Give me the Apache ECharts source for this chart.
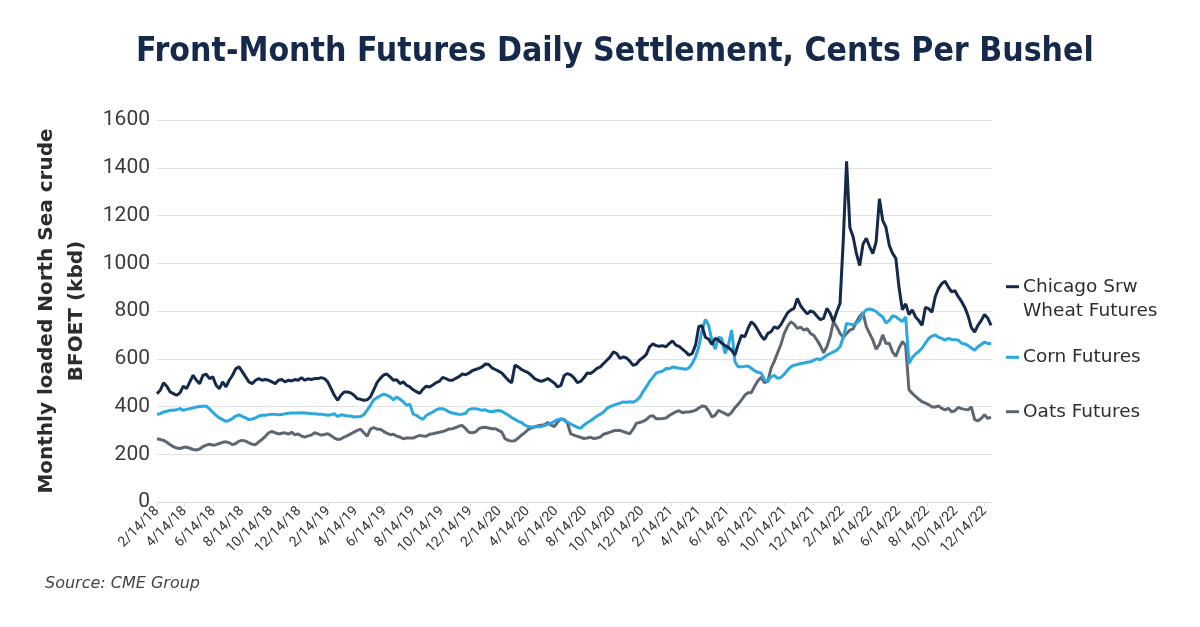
<!DOCTYPE html>
<html><head><meta charset="utf-8">
<script src="https://cdn.jsdelivr.net/npm/echarts@6/dist/echarts.min.js"></script>
<style>html,body{margin:0;padding:0;background:#fff}#c{width:1200px;height:627px}</style>
</head><body><div id="c"></div>
<script>
const seriesNames = ['Chicago Srw Wheat Futures', 'Corn Futures', 'Oats Futures'];
const legendLabels = ['Chicago Srw\nWheat Futures', 'Corn Futures', 'Oats Futures'];
const firstWeek = '2018-02-14';
const weekStepDays = 7;
const axisStart = '2018-02-14';
const axisEnd = '2022-12-30';

const wheat = [
454,468,499,485,461,454,447,457,485,475,
503,531,510,496,531,535,517,524,489,475,
503,482,510,531,559,566,545,524,503,496,
510,517,510,513,510,503,496,510,513,503,
510,507,513,510,521,510,516,513,517,517,
521,517,503,475,447,426,447,461,461,457,
447,433,430,426,428,440,470,500,518,532,
536,524,510,512,496,503,489,482,470,462,
455,473,485,482,490,500,505,522,517,510,
510,518,525,536,533,540,550,555,560,566,
578,576,562,555,548,540,525,510,499,573,
566,555,548,542,530,517,510,505,510,517,
508,498,482,488,530,538,532,520,500,505,
520,540,538,548,560,566,580,594,608,629,
622,601,608,603,590,572,578,595,605,618,
650,662,655,652,655,650,664,675,657,652,
640,629,615,622,657,735,738,690,682,660,
685,678,665,655,648,635,615,660,698,692,
727,755,742,720,695,680,706,713,734,727,
743,768,792,804,811,853,822,804,788,800,
795,778,764,769,811,790,755,797,832,1098,
1427,1150,1110,1040,990,1080,1105,1070,1040,1090,
1270,1180,1150,1075,1042,1020,895,805,830,785,
805,775,760,740,815,810,795,860,895,915,
925,900,880,885,860,840,815,780,730,712,
740,760,785,770,740
];
const corn = [
367,370,377,380,384,384,387,391,384,388,
391,394,398,400,401,402,390,375,363,352,
345,338,342,350,360,365,358,352,345,348,
352,360,363,363,366,368,367,365,366,370,
372,373,373,373,374,373,372,370,370,368,
368,366,363,365,370,358,365,363,360,360,
356,357,358,366,385,405,428,437,445,452,
447,440,428,440,430,420,405,410,368,363,
353,346,362,370,377,386,391,391,385,377,
373,370,367,368,372,388,391,391,388,384,
386,380,378,381,383,380,372,363,354,346,
338,333,322,316,314,314,315,316,320,325,
330,338,345,348,342,335,326,320,313,308,
322,332,340,350,360,368,377,392,400,405,
410,414,419,418,420,418,425,438,462,482,
505,522,540,545,548,559,558,565,563,560,
558,556,562,580,608,650,720,765,740,675,
640,690,685,622,657,720,587,566,566,568,
570,560,550,543,540,512,505,524,530,518,
522,535,552,566,573,576,580,582,585,587,
594,600,596,605,615,622,629,636,650,690,
748,745,742,750,760,790,805,808,805,798,
785,775,750,760,780,776,765,756,775,580,
605,620,630,645,665,685,695,700,690,685,
678,685,681,680,678,665,662,655,645,636,
650,660,670,664,664
];
const oats = [
265,262,258,250,240,232,226,224,228,230,
225,220,218,222,232,238,242,238,240,245,
250,252,248,240,245,255,258,255,248,242,
240,252,262,275,290,296,290,285,288,290,
284,292,282,285,276,272,277,280,290,285,
280,283,286,278,268,262,264,272,278,285,
293,300,305,290,275,305,312,305,305,296,
288,282,284,276,272,265,268,268,268,274,
279,276,275,284,286,289,292,295,300,306,
307,312,318,320,307,292,290,293,307,312,
313,310,307,307,300,293,265,258,255,257,
268,280,290,303,310,315,319,322,324,333,
322,316,335,348,346,330,285,280,275,271,
266,268,271,266,268,272,284,288,293,298,
300,300,295,290,286,305,330,333,338,345,
358,362,349,349,350,352,362,370,378,382,
374,377,377,380,384,394,402,400,382,356,
364,384,377,370,363,375,395,410,428,447,
458,458,485,508,522,500,505,560,590,625,
660,705,735,755,745,727,732,720,726,706,
698,678,655,625,650,692,755,734,706,690,
706,720,725,755,778,792,735,706,678,640,
660,700,664,665,628,610,645,672,655,470,
455,442,430,420,414,408,398,398,402,392,
386,392,378,382,396,391,388,386,398,345,
340,350,365,350,356
];
const tickLabels = [
'2/14/18','4/14/18','6/14/18','8/14/18','10/14/18','12/14/18',
'2/14/19','4/14/19','6/14/19','8/14/19','10/14/19','12/14/19',
'2/14/20','4/14/20','6/14/20','8/14/20','10/14/20','12/14/20',
'2/14/21','4/14/21','6/14/21','8/14/21','10/14/21','12/14/21',
'2/14/22','4/14/22','6/14/22','8/14/22','10/14/22','12/14/22'
];
const yTicks = [0, 200, 400, 600, 800, 1000, 1200, 1400, 1600];

const colors = ['#14294b', '#2aa8df', '#5d6772'];

function parseISO(s) { const p = s.split('-').map(Number); return new Date(p[0], p[1] - 1, p[2]).getTime(); }
function parseTick(s) { const p = s.split('/').map(Number); return new Date(2000 + p[2], p[0] - 1, p[1]).getTime(); }
const d0 = new Date(parseISO(firstWeek));
function weekTime(i) { return new Date(d0.getFullYear(), d0.getMonth(), d0.getDate() + weekStepDays * i).getTime(); }
function toPairs(arr) { return arr.map((v, i) => [weekTime(i), v]); }
const tickValues = tickLabels.map(parseTick);
function labelFor(val) {
  for (let i = 0; i < tickValues.length; i++) {
    if (Math.abs(tickValues[i] - val) < 43200000) return tickLabels[i];
  }
  const d = new Date(val);
  return (d.getMonth() + 1) + '/' + d.getDate() + '/' + String(d.getFullYear()).slice(2);
}

const chart = echarts.init(document.getElementById('c'), null, { renderer: 'canvas' });
const seriesData = [wheat, corn, oats];

const legendTops = [274.7, 345.3, 399.7];
const graphic = [];
legendLabels.forEach((lab, i) => {
  graphic.push({ type: 'rect', left: 1006, top: legendTops[i] + 10.5, shape: { width: 13, height: 3 }, style: { fill: colors[i] }, silent: true });
  graphic.push({ type: 'text', left: 1023, top: legendTops[i], style: { text: lab, font: '18.5px "DejaVu Sans"', fill: '#2b2e33', lineHeight: 24 }, silent: true });
});

chart.setOption({
  animation: false,
  backgroundColor: '#ffffff',
  title: [
    { text: 'Front-Month Futures Daily Settlement, Cents Per Bushel', left: 131, top: 30,
      textStyle: { fontFamily: 'DejaVu Sans Condensed', fontWeight: 'bold', fontSize: 33.5, color: '#15294a' } },
    { text: 'Source: CME Group', left: 40, top: 571,
      textStyle: { fontFamily: 'DejaVu Sans', fontStyle: 'italic', fontWeight: 'normal', fontSize: 16, color: '#444' } }
  ],
  grid: { left: 157, right: 208, top: 120, bottom: 125 },
  xAxis: {
    type: 'value',
    min: parseISO(axisStart),
    max: parseISO(axisEnd),
    splitLine: { show: false },
    axisLine: { show: true, onZero: false, lineStyle: { color: '#dcdcdc', width: 1 } },
    axisTick: { show: true, customValues: tickValues, length: 4, lineStyle: { color: '#dcdcdc' } },
    axisLabel: {
      customValues: tickValues,
      rotate: 45,
      margin: 7,
      fontFamily: 'Roboto',
      fontSize: 14,
      color: '#333',
      hideOverlap: false,
      showMinLabel: true,
      showMaxLabel: true,
      formatter: function (val) { return labelFor(val); }
    }
  },
  yAxis: {
    type: 'value',
    min: yTicks[0],
    max: yTicks[yTicks.length - 1],
    interval: yTicks[1] - yTicks[0],
    name: 'Monthly loaded North Sea crude\nBFOET (kbd)',
    nameLocation: 'middle',
    nameGap: 65,
    nameTextStyle: { fontFamily: 'DejaVu Sans', fontWeight: 'bold', fontSize: 20, color: '#2c2c2c', lineHeight: 30 },
    axisLine: { show: false },
    axisTick: { show: false },
    splitLine: { lineStyle: { color: '#e2e2e2', width: 1 } },
    axisLabel: { fontFamily: 'Roboto', fontSize: 21, color: '#3a3a3a', margin: 7, formatter: function (v) { return String(v); } }
  },
  graphic: graphic,
  series: seriesData.map((arr, i) => ({
    name: seriesNames[i],
    type: 'line',
    data: toPairs(arr),
    showSymbol: false,
    symbol: 'none',
    lineStyle: { color: colors[i], width: 3 },
    itemStyle: { color: colors[i] },
    z: 3 - i
  }))
});
</script></body></html>
